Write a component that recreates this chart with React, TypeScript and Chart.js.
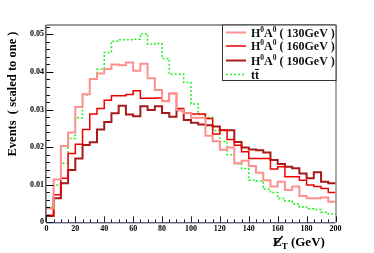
import React, { useEffect, useRef } from 'react';
import { Chart, registerables } from 'chart.js';

Chart.register(...registerables);

// Bin low edges (GeV), last entry is the upper edge of the final bin
const binEdges = [0, 5, 10, 15, 20, 25, 30, 35, 40, 45, 50, 55, 60, 65, 70, 75, 80, 85, 90, 95,
  100, 105, 110, 115, 120, 125, 130, 135, 140, 145, 150, 155, 160, 165, 170, 175, 180, 185, 190, 195, 200];

const h130 = [0.0037, 0.0114, 0.0203, 0.0239, 0.0307, 0.0341, 0.0381, 0.0396, 0.0408, 0.0420,
  0.0418, 0.0425, 0.0403, 0.0422, 0.0383, 0.0352, 0.0322, 0.0343, 0.0299, 0.0290,
  0.0278, 0.0278, 0.0230, 0.0216, 0.0193, 0.0199, 0.0157, 0.0164, 0.0150, 0.0132,
  0.0112, 0.0095, 0.0108, 0.0086, 0.0095, 0.0070, 0.0064, 0.0064, 0.0066, 0.0055];

const h160 = [0.0019, 0.0073, 0.0117, 0.0183, 0.0208, 0.0247, 0.0288, 0.0303, 0.0325, 0.0337,
  0.0337, 0.0340, 0.0350, 0.0330, 0.0330, 0.0331, 0.0322, 0.0343, 0.0303, 0.0290,
  0.0288, 0.0288, 0.0276, 0.0235, 0.0245, 0.0220, 0.0205, 0.0188, 0.0170, 0.0170,
  0.0170, 0.0142, 0.0148, 0.0121, 0.0121, 0.0112, 0.0099, 0.0095, 0.0090, 0.0079];

const h190 = [0.0017, 0.0064, 0.0104, 0.0139, 0.0170, 0.0206, 0.0213, 0.0247, 0.0267, 0.0290,
  0.0310, 0.0287, 0.0282, 0.0309, 0.0299, 0.0309, 0.0291, 0.0281, 0.0298, 0.0272,
  0.0265, 0.0260, 0.0258, 0.0255, 0.0245, 0.0245, 0.0214, 0.0199, 0.0194, 0.0192,
  0.0186, 0.0166, 0.0155, 0.0148, 0.0144, 0.0130, 0.0117, 0.0133, 0.0108, 0.0104];

const ttbar = [0.0040, 0.0099, 0.0157, 0.0223, 0.0278, 0.0339, 0.0381, 0.0407, 0.0452, 0.0482,
  0.0486, 0.0486, 0.0487, 0.0502, 0.0474, 0.0476, 0.0436, 0.0394, 0.0394, 0.0372,
  0.0315, 0.0287, 0.0279, 0.0244, 0.0215, 0.0180, 0.0156, 0.0143, 0.0112, 0.0110,
  0.0088, 0.0079, 0.0063, 0.0057, 0.0049, 0.0041, 0.0036, 0.0034, 0.0027, 0.0022];

const massLabels = ['( 130GeV )', '( 160GeV )', '( 190GeV )'];
const yTitle = 'Events  ( scaled to one )';
const xTitleUnit = ' (GeV)';

const COLORS = ['#ff9090', '#ee0000', '#a81a1a', '#22ee22'];
const FONT = "'Liberation Serif', 'DejaVu Serif', serif";

function toSteps(vals: number[]) {
  return binEdges.map((x, i) => ({ x, y: vals[Math.min(i, vals.length - 1)] }));
}

const decorPlugin = {
  id: 'decor',
  afterDraw(chart: any) {
    const { ctx, chartArea: ca, scales } = chart;
    const x = scales.x;
    const y = scales.y;
    ctx.save();
    const ln = (x1: number, y1: number, x2: number, y2: number) => {
      ctx.beginPath(); ctx.moveTo(x1, y1); ctx.lineTo(x2, y2); ctx.stroke();
    };
    // frame
    ctx.strokeStyle = '#999';
    ctx.lineWidth = 2;
    ln(ca.left, ca.top, ca.right, ca.top);
    ctx.strokeStyle = '#555';
    ctx.lineWidth = 1;
    ln(ca.right + 0.5, ca.top, ca.right + 0.5, ca.bottom);
    // y axis
    ctx.strokeStyle = '#000';
    ln(ca.left - 0.5, ca.top, ca.left - 0.5, ca.bottom);
    for (let k = 0; k <= 26; k++) {
      const py = Math.round(y.getPixelForValue(k * 0.002)) + 0.5;
      const len = k % 5 === 0 ? 7 : 3.5;
      ln(ca.left, py, ca.left + len, py);
    }
    // x axis
    ctx.strokeStyle = '#1c1c3c';
    ln(ca.left, ca.bottom + 0.5, ca.right, ca.bottom + 0.5);
    for (let k = 0; k <= 40; k++) {
      const px = Math.round(x.getPixelForValue(k * 5)) + 0.5;
      const len = k % 4 === 0 ? 6 : 3;
      ln(px, ca.bottom, px, ca.bottom - len);
    }

    // legend
    const lx0 = 222.5, lx1 = ca.right + 0.5, ly0 = ca.top, ly1 = 80.5;
    ctx.fillStyle = '#fff';
    ctx.fillRect(lx0, ly0, lx1 - lx0, ly1 - ly0);
    ctx.strokeStyle = '#333';
    ctx.lineWidth = 1;
    ctx.strokeRect(lx0, ly0, lx1 - lx0, ly1 - ly0);
    const rows = [32.5, 46, 60.5, 74.5];
    const datasets = chart.data.datasets;
    rows.forEach((ry, i) => {
      const ds = datasets[i];
      ctx.strokeStyle = ds.borderColor;
      ctx.lineWidth = ds.borderWidth;
      ctx.setLineDash(ds.borderDash || []);
      ln(226, ry, 246, ry);
      ctx.setLineDash([]);
      ctx.fillStyle = '#111';
      ctx.textBaseline = 'alphabetic';
      ctx.textAlign = 'left';
      const base = ry + 4;
      let tx = 251;
      if (i < 3) {
        ctx.font = `bold 12px ${FONT}`;
        ctx.fillText('H', tx, base); tx += ctx.measureText('H').width;
        ctx.font = `bold 7.5px ${FONT}`;
        ctx.fillText('0', tx, base - 5); tx += ctx.measureText('0').width;
        ctx.font = `bold 12px ${FONT}`;
        ctx.fillText('A', tx, base); tx += ctx.measureText('A').width;
        ctx.font = `bold 7.5px ${FONT}`;
        ctx.fillText('0', tx, base - 5); tx += ctx.measureText('0').width;
        ctx.font = `bold 12px ${FONT}`;
        ctx.fillText(' ' + massLabels[i], tx, base);
      } else {
        ctx.font = `bold 12px ${FONT}`;
        ctx.fillText('t', tx, base); tx += ctx.measureText('t').width;
        const tw = ctx.measureText('t').width;
        ctx.fillText('t', tx, base);
        ctx.strokeStyle = '#111';
        ctx.lineWidth = 1;
        ln(tx, base - 9, tx + tw, base - 9);
      }
    });

    // y title
    ctx.save();
    ctx.translate(16, 94);
    ctx.rotate(-Math.PI / 2);
    ctx.font = `bold 12.5px ${FONT}`;
    ctx.fillStyle = '#000';
    ctx.textAlign = 'center';
    ctx.textBaseline = 'alphabetic';
    ctx.fillText(yTitle, 0, 0);
    ctx.restore();

    // x title: missing E_T
    ctx.fillStyle = '#000';
    ctx.font = `bold 13px ${FONT}`;
    ctx.textAlign = 'left';
    ctx.textBaseline = 'alphabetic';
    let xx = 273;
    const xb = 246;
    ctx.fillText('E', xx, xb);
    const ew = ctx.measureText('E').width;
    ctx.strokeStyle = '#000';
    ctx.lineWidth = 1.3;
    ln(xx + 1, xb, xx + ew + 1, xb - 10);
    xx += ew;
    ctx.font = `bold 9px ${FONT}`;
    ctx.fillText('T', xx, xb + 3);
    xx += ctx.measureText('T').width;
    ctx.font = `bold 13px ${FONT}`;
    ctx.fillText(xTitleUnit, xx, xb);
    ctx.restore();
  },
};

export default function App() {
  const ref = useRef<HTMLCanvasElement | null>(null);
  useEffect(() => {
    if (!ref.current) return;
    const series = [h130, h160, h190, ttbar];
    const chart = new Chart(ref.current, {
      type: 'line',
      data: {
        datasets: series.map((s, i) => ({
          label: i < 3 ? 'H0A0 ' + massLabels[i] : 'tt',
          data: toSteps(s),
          borderColor: COLORS[i],
          borderWidth: i === 1 ? 1.5 : i === 3 ? 1.5 : 2,
          borderDash: i === 3 ? [2, 2] : undefined,
          stepped: 'before',
          pointRadius: 0,
          fill: false,
        })),
      },
      options: {
        animation: false,
        responsive: false,
        devicePixelRatio: 1,
        layout: { padding: { left: 0, right: 38.5, top: 25, bottom: 0 } },
        plugins: { legend: { display: false }, tooltip: { enabled: false } },
        scales: {
          x: {
            type: 'linear',
            min: 0,
            max: 200,
            grid: { display: false, drawTicks: false },
            border: { display: false },
            ticks: {
              stepSize: 20,
              autoSkip: false,
              maxRotation: 0,
              padding: 2,
              color: '#000',
              font: { family: FONT, size: 8, weight: 'bold' },
            },
            afterFit: (s: any) => { s.height = 30.7; },
          },
          y: {
            min: 0,
            max: 0.0525,
            grid: { display: false, drawTicks: false },
            border: { display: false },
            ticks: {
              stepSize: 0.01,
              includeBounds: false,
              padding: 2.5,
              color: '#000',
              font: { family: FONT, size: 8, weight: 'bold' },
              callback: (v: any) => (v === 0 ? '0' : Number(v).toFixed(2)),
            },
            afterFit: (s: any) => { s.width = 46.4; },
          },
        },
      },
      plugins: [decorPlugin],
    });
    return () => chart.destroy();
  }, []);
  return (
    <div style={{ position: 'absolute', left: 0, top: 0, width: 374, height: 253, background: '#fff' }}>
      <canvas ref={ref} width={374} height={253} />
    </div>
  );
}
